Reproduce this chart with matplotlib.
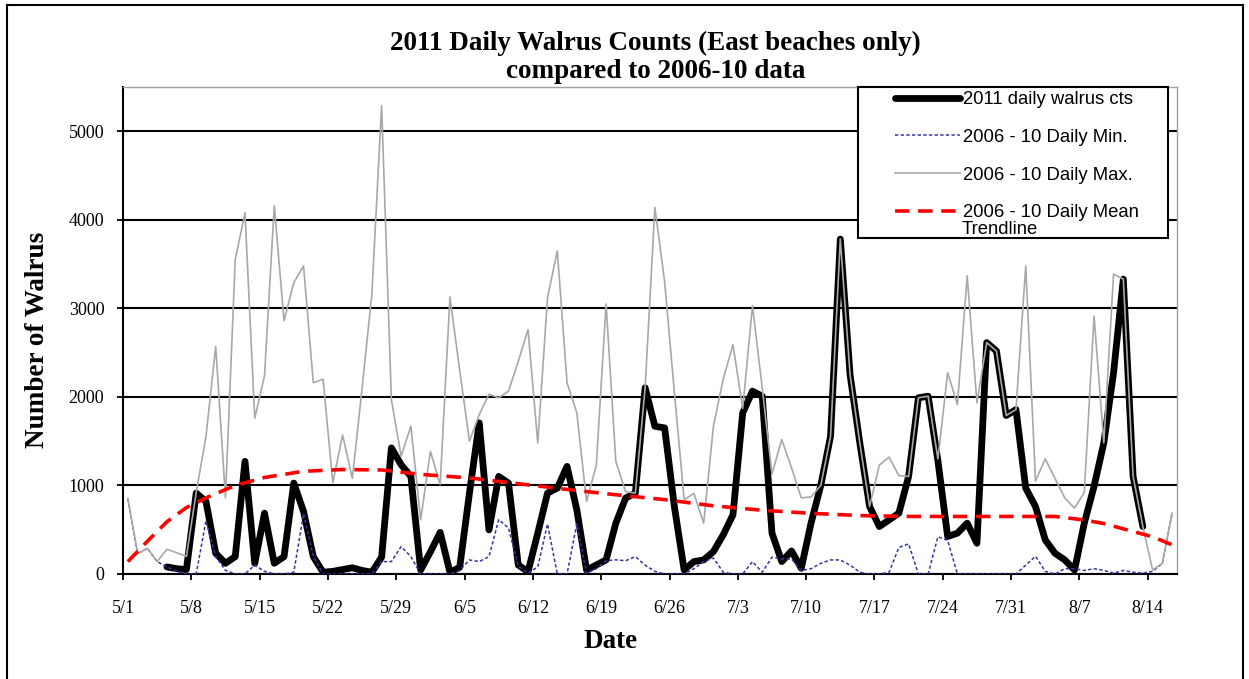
import numpy as np
import matplotlib
matplotlib.use("Agg")
from matplotlib import pyplot as plt
from matplotlib.lines import Line2D
from matplotlib.patches import Rectangle

# daily values, 5/1 .. 8/16 (108 days)
max_0610 = [850, 230, 290, 140, 280, 240, 200, 920, 1550, 2570,
            860, 3550, 4080, 1760, 2240, 4160, 2860, 3290, 3480, 2160,
            2200, 1030, 1570, 1080, 2100, 3160, 5290, 1970, 1330, 1670,
            610, 1385, 1010, 3130, 2300, 1500, 1800, 2030, 1990, 2065,
            2400, 2760, 1480, 3120, 3650, 2160, 1820, 820, 1230, 3050,
            1270, 930, 914, 2103, 4140, 3300, 2050, 840, 910, 575,
            1670, 2200, 2590, 1870, 3030, 2100, 1130, 1518, 1200, 860,
            870, 1000, 1555, 3783, 2250, 1480, 762, 1230, 1320, 1110,
            1102, 1990, 2008, 1300, 2273, 1914, 3367, 1933, 2613, 2518,
            1790, 1857, 3480, 1050, 1300, 1080, 860, 744, 920, 2914,
            1480, 3386, 3330, 1102, 536, 45, 120, 687]

min_0610 = [850, 230, 290, 140, 80, 30, 0, 0, 600, 200,
            40, 0, 0, 100, 30, 0, 0, 20, 680, 200,
            0, 0, 0, 0, 0, 0, 140, 140, 310, 196,
            0, 0, 0, 0, 40, 159, 140, 196, 615, 520,
            90, 10, 80, 565, 0, 0, 565, 10, 60, 150,
            160, 150, 196, 100, 30, 0, 0, 0, 60, 140,
            180, 20, 0, 0, 140, 20, 190, 170, 170, 40,
            60, 120, 159, 159, 100, 20, 0, 0, 20, 300,
            340, 0, 0, 420, 380, 0, 0, 0, 0, 0,
            0, 0, 100, 200, 30, 0, 60, 60, 40, 60,
            40, 10, 40, 20, 10, 30, 120, 687]

# 2011 counts, 5/5 .. 8/14
first_2011 = 4
cts_2011 = [80, 60, 50, 914, 819, 234, 121, 196, 1272, 121,
            687, 121, 196, 1027, 706, 196, 20, 30, 50, 70,
            40, 20, 190, 1424, 1234, 1102, 45, 250, 470, 20,
            75, 914, 1707, 498, 1102, 1027, 102, 26, 461, 914,
            970, 1215, 725, 45, 102, 159, 574, 857, 914, 2103,
            1668, 1650, 760, 45, 140, 159, 253, 442, 668, 1820,
            2065, 2008, 461, 140, 260, 65, 574, 1000, 1555, 3783,
            2250, 1480, 762, 536, 611, 687, 1102, 1990, 2008, 1280,
            423, 461, 574, 347, 2613, 2518, 1790, 1857, 970, 762,
            385, 234, 159, 45, 574, 989, 1480, 2273, 3330, 1102, 536]

# mean trendline (day index, value)
trend_day = [0, 2, 4, 6, 8, 11, 14, 18, 22, 26, 30, 35, 40, 45, 50, 55,
             60, 65, 70, 75, 80, 85, 90, 95, 98, 100, 103, 105, 107]
trend_val = [140, 370, 590, 750, 860, 1000, 1090, 1160, 1180, 1175, 1125,
             1085, 1020, 955, 895, 840, 770, 720, 685, 660, 650, 650, 650,
             650, 610, 570, 480, 420, 330]

tick_labels = ['5/1', '5/8', '5/15', '5/22', '5/29', '6/5', '6/12', '6/19',
               '6/26', '7/3', '7/10', '7/17', '7/24', '7/31', '8/7', '8/14']

serif = 'Liberation Serif'
sans = 'Liberation Sans'

fig = plt.figure(figsize=(12.49, 6.79), dpi=100)
W, H = 1249, 679
ax = fig.add_axes([123 / W, 1 - 574 / H, 1054 / W, 487 / H])

days = np.arange(len(max_0610)) + 0.5
d2011 = np.arange(len(cts_2011)) + first_2011 + 0.5

ax.plot(d2011, cts_2011, color='black', lw=4.9, solid_joinstyle='round',
        solid_capstyle='round', label='2011 daily walrus cts', zorder=3)
ax.plot(days, min_0610, color='#3535A5', lw=1.1, dashes=(2.2, 1.5),
        label='2006 - 10 Daily Min.', zorder=4)
ax.plot(days, max_0610, color='#A8A8A8', lw=1.2,
        label='2006 - 10 Daily Max.', zorder=5)
ax.plot(np.array(trend_day) + 0.5, trend_val, color='#FF0000', lw=2.6,
        dashes=(4, 2.4), label='2006 - 10 Daily Mean', zorder=6)

ax.set_xlim(0, 108)
ax.set_ylim(0, 5500)
ax.set_yticks(np.arange(0, 5001, 1000))
ax.set_xticks(np.arange(0, 106, 7))
ax.set_xticklabels(tick_labels)
ax.yaxis.grid(True, color='black', lw=1.5)
ax.set_axisbelow(True)

for lab in ax.get_xticklabels() + ax.get_yticklabels():
    lab.set_fontfamily(serif)
    lab.set_fontsize(13)
ax.tick_params(axis='x', direction='out', length=4.5, width=1.3, pad=14)
ax.tick_params(axis='y', direction='out', length=4.5, width=1.3, pad=9)

ax.spines['left'].set_linewidth(1.5)
ax.spines['bottom'].set_linewidth(1.5)
for s in ('top', 'right'):
    ax.spines[s].set_color('#A0A0A0')
    ax.spines[s].set_linewidth(1.0)

fig.text(611 / W, 1 - 642 / H, 'Date', ha='center', va='center',
         fontfamily=serif, fontweight='bold', fontsize=19.5)
fig.text(38 / W, 1 - 340 / H, 'Number of Walrus', ha='center', va='center',
         rotation=90, fontfamily=serif, fontweight='bold', fontsize=19.5)

fig.text(655 / W, 1 - 43 / H, '2011 Daily Walrus Counts (East beaches only)',
         ha='center', va='center', fontfamily=serif, fontweight='bold',
         fontsize=19.5)
fig.text(656 / W, 1 - 72 / H, 'compared to 2006-10 data', ha='center',
         va='center', fontfamily=serif, fontweight='bold', fontsize=19.5)

# legend box
ax.add_patch(Rectangle(((858 - 123) / 1054, (574 - 238) / 487),
                       310 / 1054, 151 / 487, transform=ax.transAxes,
                       facecolor='white', edgecolor='black', lw=1.5,
                       zorder=10, clip_on=False))
leg = ax.legend(loc='upper left', bbox_to_anchor=((886 - 123) / 1054, (574 - 82) / 487),
                frameon=False, borderpad=0, handlelength=3.5,
                handletextpad=0.15, labelspacing=1.12,
                prop={'family': sans, 'size': 13.3})
leg.set_zorder(11)
fig.text(962 / W, 1 - 229 / H, 'Trendline', ha='left', va='center',
         fontfamily=sans, fontsize=13.3, zorder=12)

# outer border of the picture
for xs, ys in (([7 / W, 7 / W], [0, 1 - 5 / H]),
               ([7 / W, 1243 / W], [1 - 5 / H, 1 - 5 / H]),
               ([1243 / W, 1243 / W], [1 - 5 / H, 0])):
    fig.add_artist(Line2D(xs, ys, color='black', lw=1.5))

fig.savefig('out.png', dpi=100)
